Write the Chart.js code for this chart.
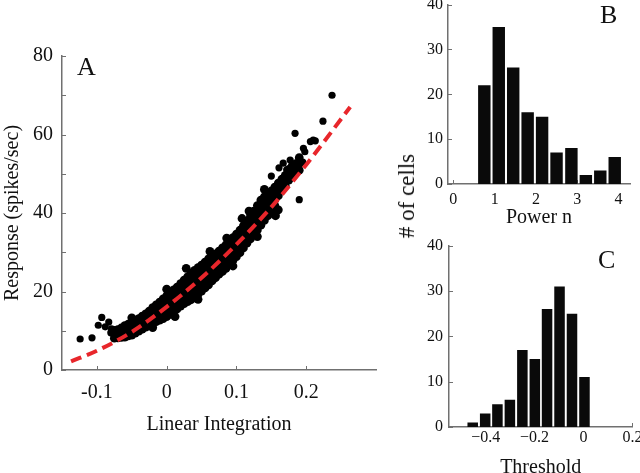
<!DOCTYPE html>
<html>
<head>
<meta charset="utf-8">
<script src="https://cdn.jsdelivr.net/npm/chart.js@4/dist/chart.umd.min.js"></script>
<style>
  body { margin: 0; width: 640px; height: 473px; overflow: hidden; background: #fff; position: relative;
         font-family: "Liberation Serif", "Times New Roman", serif; color: #111; }
  canvas { position: absolute; }
  .letter { position: absolute; font-size: 26px; line-height: 1; }
  .ylab { position: absolute; font-size: 23px; white-space: nowrap; transform: translate(-50%, -50%) rotate(-90deg); }
</style>
</head>
<body>
<canvas id="panel-a" width="390" height="473" style="left:0;top:0"></canvas>
<canvas id="panel-b" width="240" height="250" style="left:400px;top:-10px"></canvas>
<canvas id="panel-c" width="260" height="253" style="left:400px;top:230px"></canvas>
<div class="letter" style="left:77px;top:54px">A</div>
<div class="letter" style="left:600px;top:2px">B</div>
<div class="letter" style="left:598px;top:247px">C</div>
<div class="ylab" style="left:407px;top:196px"># of cells</div>
<script>
// ---- panel A: response vs linear integration (dots) ----
// the dense band, column by column
const bandPoints = [
  [-0.075, 8.1], [-0.075, 9.1], [-0.075, 10.1],
  [-0.070, 8.2], [-0.070, 9.3], [-0.070, 10.3],
  [-0.065, 8.3], [-0.065, 9.5], [-0.065, 10.7],
  [-0.060, 8.4], [-0.060, 9.8], [-0.060, 11.3],
  [-0.055, 8.7], [-0.055, 10.2], [-0.055, 11.7],
  [-0.050, 8.9], [-0.050, 10.5], [-0.050, 12.1],
  [-0.045, 9.4], [-0.045, 11.0], [-0.045, 12.5],
  [-0.040, 9.9], [-0.040, 11.5], [-0.040, 13.1],
  [-0.035, 10.4], [-0.035, 12.0], [-0.035, 13.7],
  [-0.030, 10.9], [-0.030, 12.6], [-0.030, 14.3],
  [-0.025, 11.4], [-0.025, 13.2], [-0.025, 15.0],
  [-0.020, 11.9], [-0.020, 13.9], [-0.020, 15.9],
  [-0.015, 12.3], [-0.015, 14.4], [-0.015, 16.6],
  [-0.010, 12.7], [-0.010, 14.2], [-0.010, 16.0], [-0.010, 17.3],
  [-0.005, 13.1], [-0.005, 14.7], [-0.005, 16.5], [-0.005, 18.1],
  [0.000, 13.6], [0.000, 15.3], [0.000, 17.2], [0.000, 18.9],
  [0.005, 14.2], [0.005, 15.9], [0.005, 17.8], [0.005, 19.6],
  [0.010, 14.9], [0.010, 16.7], [0.010, 18.6], [0.010, 20.4],
  [0.015, 15.6], [0.015, 17.4], [0.015, 19.3], [0.015, 21.1],
  [0.020, 16.3], [0.020, 18.2], [0.020, 20.1], [0.020, 22.0],
  [0.025, 16.9], [0.025, 18.9], [0.025, 20.9], [0.025, 22.9],
  [0.030, 17.4], [0.030, 19.5], [0.030, 21.6], [0.030, 23.7],
  [0.035, 17.9], [0.035, 20.2], [0.035, 22.4], [0.035, 24.7],
  [0.040, 18.5], [0.040, 20.8], [0.040, 23.1], [0.040, 25.4],
  [0.045, 19.3], [0.045, 21.6], [0.045, 23.8], [0.045, 26.1],
  [0.050, 20.1], [0.050, 22.3], [0.050, 24.5], [0.050, 26.7],
  [0.055, 20.9], [0.055, 23.1], [0.055, 25.3], [0.055, 27.5],
  [0.060, 21.7], [0.060, 23.9], [0.060, 26.1], [0.060, 28.3],
  [0.065, 22.7], [0.065, 24.8], [0.065, 26.8], [0.065, 28.9],
  [0.070, 23.5], [0.070, 25.5], [0.070, 27.6], [0.070, 29.6],
  [0.075, 24.4], [0.075, 26.3], [0.075, 28.4], [0.075, 30.3],
  [0.080, 25.1], [0.080, 27.1], [0.080, 29.1], [0.080, 31.1],
  [0.085, 25.9], [0.085, 27.9], [0.085, 29.9], [0.085, 31.9],
  [0.090, 26.9], [0.090, 28.9], [0.090, 30.9], [0.090, 32.9],
  [0.095, 27.9], [0.095, 29.8], [0.095, 31.8], [0.095, 33.7],
  [0.100, 28.9], [0.100, 30.8], [0.100, 32.7], [0.100, 34.6],
  [0.105, 29.9], [0.105, 31.8], [0.105, 33.7], [0.105, 35.6],
  [0.110, 31.1], [0.110, 33.0], [0.110, 34.9], [0.110, 36.7],
  [0.115, 32.3], [0.115, 34.1], [0.115, 36.1], [0.115, 37.9],
  [0.120, 33.4], [0.120, 35.3], [0.120, 37.2], [0.120, 39.1],
  [0.125, 34.5], [0.125, 36.5], [0.125, 38.5], [0.125, 40.5],
  [0.130, 35.7], [0.130, 37.8], [0.130, 39.8], [0.130, 41.9],
  [0.135, 36.9], [0.135, 39.0], [0.135, 41.2], [0.135, 43.3],
  [0.140, 38.1], [0.140, 40.1], [0.140, 42.1], [0.140, 44.1],
  [0.145, 39.3], [0.145, 41.1], [0.145, 43.1], [0.145, 44.9],
  [0.150, 40.5], [0.150, 42.2], [0.150, 44.0], [0.150, 45.6],
  [0.155, 41.9], [0.155, 43.4], [0.155, 45.1], [0.155, 46.6],
  [0.160, 44.4], [0.160, 46.0], [0.160, 47.6],
  [0.165, 45.9], [0.165, 47.3], [0.165, 48.6],
  [0.170, 46.9], [0.170, 48.3], [0.170, 49.6],
  [0.175, 48.4], [0.175, 49.8], [0.175, 51.1],
  [0.180, 49.4], [0.180, 50.8], [0.180, 52.1],
  [0.185, 50.4], [0.185, 51.5], [0.185, 52.6],
  [0.190, 50.9], [0.190, 52.5], [0.190, 54.1],
  // ragged edges of the band
  [-0.050, 13.3], [-0.020, 10.8], [0.000, 20.6], [0.012, 13.6], [0.028, 25.9], [0.045, 18.0],
  [0.062, 30.2], [0.086, 33.6], [0.095, 26.5], [0.108, 38.6], [0.118, 40.5], [0.130, 34.0],
  [0.140, 46.0], [0.156, 39.3], [0.160, 40.8]
];
// isolated dots away from the band
const strayPoints = [
  [-0.124, 7.9], [-0.107, 8.2], [-0.098, 11.4], [-0.093, 13.4], [-0.088, 11.0], [-0.083, 12.2],
  [-0.080, 9.5], [-0.079, 10.5],
  [0.150, 49.4], [0.161, 51.5], [0.167, 52.7], [0.172, 51.0], [0.177, 53.5], [0.181, 52.3],
  [0.184, 60.3], [0.190, 43.4], [0.195, 53.0], [0.196, 56.5], [0.198, 55.6], [0.206, 58.2],
  [0.210, 58.6], [0.213, 58.4], [0.224, 63.4], [0.237, 70.0]
];
// fitted power-law curve, read along the red dashes
const fitX = [-0.137, -0.1, -0.05, 0, 0.05, 0.1, 0.15, 0.2, 0.263];
const fitY = [2.2, 4.9, 9.7, 16.1, 23.5, 32.0, 41.5, 52.3, 67.0];
const ticksAx = [-0.1, 0, 0.1, 0.2];
const ticksAy = [0, 10, 20, 30, 40, 50, 60, 70, 80];

// ---- panel B: histogram of power n ----
const powerBins = [0.75, 1.10, 1.45, 1.80, 2.15, 2.50, 2.86, 3.21, 3.56, 3.91];
const powerCounts = [22, 35, 26, 16, 15, 7, 8, 2, 3, 6];
const ticksBx = [0, 1, 2, 3, 4];

// ---- panel C: histogram of threshold ----
const thresholdBins = [-0.453, -0.402, -0.352, -0.301, -0.250, -0.199, -0.149, -0.098, -0.047, 0.004];
const thresholdCounts = [1, 3, 5, 6, 17, 15, 26, 31, 25, 11];
const ticksCx = [-0.4, -0.2, 0, 0.2];
const ticksCount = [0, 10, 20, 30, 40];

const axisColor = '#707070';
Chart.defaults.font.family = '"Liberation Serif", "Times New Roman", serif';
Chart.defaults.color = '#111';

// small tick marks pointing into the plot, like the original
const inwardTicks = {
  id: 'inwardTicks',
  beforeDatasetsDraw(chart) {
    const {ctx, chartArea, scales} = chart;
    ctx.save();
    ctx.strokeStyle = axisColor;
    ctx.lineWidth = 1;
    ctx.beginPath();
    scales.x.ticks.forEach(t => {
      const px = Math.round(scales.x.getPixelForValue(t.value)) + 0.5;
      ctx.moveTo(px, chartArea.bottom);
      ctx.lineTo(px, chartArea.bottom - 4);
    });
    scales.y.ticks.forEach(t => {
      const py = Math.round(scales.y.getPixelForValue(t.value)) + 0.5;
      ctx.moveTo(chartArea.left, py);
      ctx.lineTo(chartArea.left + 4, py);
    });
    ctx.stroke();
    ctx.restore();
  }
};

function axis(o) {
  return {
    type: 'linear',
    min: o.min,
    max: o.max,
    offset: false,
    afterBuildTicks: s => { s.ticks = o.ticks.map(v => ({value: v})); },
    afterFit: s => { if (s.isHorizontal()) s.height = o.size; else s.width = o.size; },
    grid: {display: false, drawTicks: false, offset: false},
    border: {display: true, color: axisColor, width: 1.5},
    ticks: {autoSkip: false, maxRotation: 0, padding: o.pad, font: {size: o.fontSize}, callback: o.label},
    title: {display: !!o.title, text: o.title, font: {size: 20}, padding: o.titlePad || 0}
  };
}

const plain = v => (v === 0 ? '0' : String(v));
const baseOptions = (padding, scales) => ({
  responsive: false,
  animation: false,
  layout: {padding},
  plugins: {legend: {display: false}, tooltip: {enabled: false}},
  scales
});

new Chart(document.getElementById('panel-a'), {
  type: 'scatter',
  data: {
    datasets: [
      {
        type: 'line',
        data: fitX.map((x, i) => ({x, y: fitY[i]})),
        borderColor: '#e8262b',
        borderWidth: 4,
        borderDash: [11, 6],
        pointRadius: 0,
        cubicInterpolationMode: 'monotone',
        fill: false,
        order: 0
      },
      {
        data: bandPoints.map(([x, y]) => ({x, y})),
        backgroundColor: '#000',
        borderWidth: 0,
        pointRadius: 4.4,
        order: 1
      },
      {
        data: strayPoints.map(([x, y]) => ({x, y})),
        backgroundColor: '#000',
        borderWidth: 0,
        pointRadius: 3.6,
        order: 2
      }
    ]
  },
  options: baseOptions({top: 56, right: 14, left: 0, bottom: 0}, {
    x: axis({min: -0.15, max: 0.3, ticks: ticksAx, size: 103, pad: 11, fontSize: 20, label: plain,
             title: 'Linear Integration', titlePad: {top: 0, bottom: 36}}),
    y: axis({min: 0, max: 80, ticks: ticksAy, size: 62, pad: 9, fontSize: 20,
             label: v => (v % 20 === 0 ? String(v) : ''),
             title: 'Response (spikes/sec)', titlePad: {top: 1, bottom: 0}})
  }),
  plugins: [inwardTicks]
});

function histogram(id, bins, counts, padding, xAxis, yAxis) {
  new Chart(document.getElementById(id), {
    type: 'bar',
    data: {
      datasets: [{
        data: bins.map((x, i) => ({x, y: counts[i]})),
        backgroundColor: '#0a0a0a',
        borderWidth: 0,
        categoryPercentage: 1,
        barPercentage: 0.86
      }]
    },
    options: baseOptions(padding, {x: xAxis, y: yAxis}),
    plugins: [inwardTicks]
  });
}

histogram('panel-b', powerBins, powerCounts, {top: 13, right: 10, left: 0, bottom: 0},
  axis({min: -0.13, max: 4.28, ticks: ticksBx, size: 56, pad: 6, fontSize: 16, label: plain,
        title: 'Power n', titlePad: {top: 0, bottom: 10}}),
  axis({min: 0, max: 40, ticks: ticksCount, size: 48, pad: 5, fontSize: 16, label: plain}));

histogram('panel-c', thresholdBins, thresholdCounts, {top: 15.5, right: 27.6, left: 0, bottom: 0},
  axis({min: -0.55, max: 0.2, ticks: ticksCx, size: 56, pad: 1, fontSize: 16,
        label: v => (v === 0 ? '0' : v < 0 ? '\u2212' + Math.abs(v) : String(v)),
        title: 'Threshold', titlePad: {top: 0, bottom: 3}}),
  axis({min: 0, max: 40, ticks: ticksCount, size: 49, pad: 6, fontSize: 16, label: plain}));
</script>
</body>
</html>
